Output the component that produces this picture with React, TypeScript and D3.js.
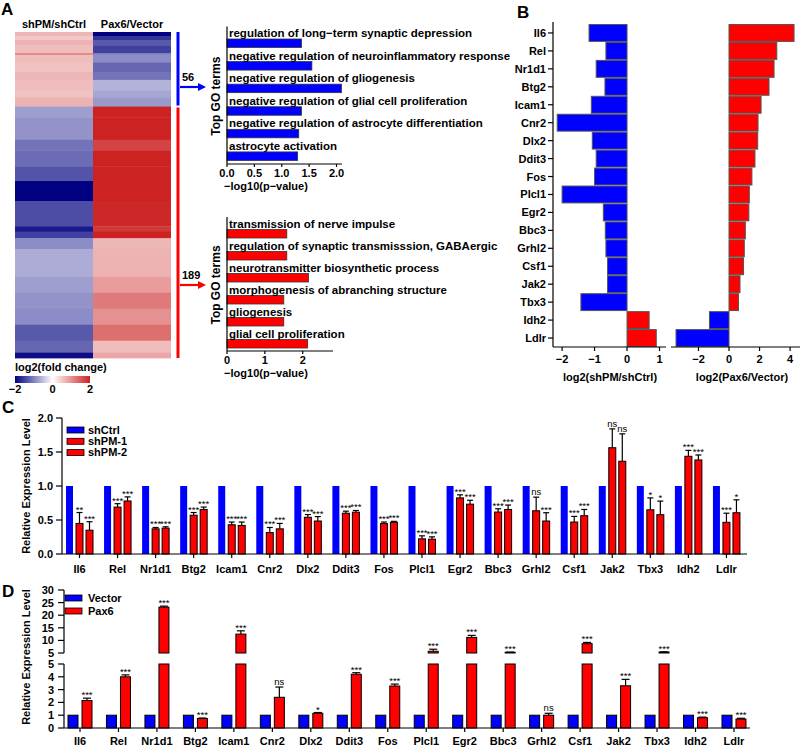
import React, { useEffect, useRef } from 'react';
import * as d3 from 'd3';

const FONT = '"Liberation Sans", Arial, Helvetica, sans-serif';
const BLUE = '#0000ff';
const RED = '#ff0000';
const MINUS = '\u2212';

// A: heatmap bands (genes per band, log2 fold change of each column)
const hmCounts = [3, 3, 4, 6, 1, 6, 7, 6, 8, 5, 7, 8, 17, 8, 12, 11, 15, 19, 4, 5, 8, 21, 12, 12, 12, 12, 9, 4];
const hmShPM = [0.65, 0.5, 0.7, 0.6, 1.3, 0.6, 0.55, 0.65, 0.6, 0.55, 0.7, -0.75, -0.85, -1.1, -1.15, -1.35, -2.0, -1.4, -1.8, -1.5, -0.9, -0.65, -0.75, -0.85, -0.9, -1.3, -1.2, -1.9];
const hmPax6 = [-2.0, -1.6, -1.3, -1.5, -1.0, -0.9, -1.2, -1.1, -0.6, -0.7, -0.8, 2.0, 2.0, 1.7, 2.0, 2.0, 2.0, 1.95, 1.8, 2.0, 0.65, 0.7, 0.9, 1.2, 1.0, 1.3, 0.6, 0.8];
const hmColumns = ['shPM/shCtrl', 'Pax6/Vector'];
const hmGroups = [56, 189];

// A: GO terms
const goTopTerms = [
  'regulation of long\u2212term synaptic depression',
  'negative regulation of neuroinflammatory response',
  'negative regulation of gliogenesis',
  'negative regulation of glial cell proliferation',
  'negative regulation of astrocyte differentiation',
  'astrocyte activation',
];
const goTopValues = [1.36, 1.55, 2.09, 1.36, 1.31, 1.29];
const goBottomTerms = [
  'transmission of nerve impulse',
  'regulation of synaptic transmisssion, GABAergic',
  'neurotransmitter biosynthetic process',
  'morphogenesis of abranching structure',
  'gliogenesis',
  'glial cell proliferation',
];
const goBottomValues = [1.58, 1.58, 2.15, 1.5, 1.5, 2.13];

// genes used in B, C, D
const genes = ['Il6', 'Rel', 'Nr1d1', 'Btg2', 'Icam1', 'Cnr2', 'Dlx2', 'Ddit3', 'Fos', 'Plcl1', 'Egr2', 'Bbc3', 'Grhl2', 'Csf1', 'Jak2', 'Tbx3', 'Idh2', 'Ldlr'];

// B
const bShPM = [-1.17, -0.65, -0.95, -0.68, -1.1, -2.15, -1.07, -0.95, -1.0, -2.0, -0.73, -0.67, -0.65, -0.6, -0.6, -1.42, 0.68, 0.9];
const bPax6 = [4.26, 3.13, 2.95, 2.62, 2.1, 1.9, 1.88, 1.7, 1.5, 1.33, 1.3, 1.07, 1.0, 0.95, 0.72, 0.62, -1.28, -3.47];

// C
const cSeries = ['shCtrl', 'shPM-1', 'shPM-2'];
const cShCtrl = [1, 1, 1, 1, 1, 1, 1, 1, 1, 1, 1, 1, 1, 1, 1, 1, 1, 1];
const cShPM1 = [0.45, 0.69, 0.37, 0.57, 0.43, 0.315, 0.54, 0.6, 0.447, 0.223, 0.825, 0.617, 0.636, 0.47, 1.563, 0.65, 1.437, 0.466];
const cShPM1Err = [0.16, 0.05, 0.02, 0.04, 0.04, 0.075, 0.04, 0.03, 0.023, 0.044, 0.045, 0.048, 0.2, 0.083, 0.277, 0.175, 0.087, 0.134];
const cShPM2 = [0.35, 0.78, 0.38, 0.655, 0.42, 0.37, 0.485, 0.615, 0.466, 0.218, 0.733, 0.655, 0.485, 0.563, 1.364, 0.578, 1.383, 0.607];
const cShPM2Err = [0.125, 0.06, 0.02, 0.035, 0.05, 0.08, 0.065, 0.025, 0.014, 0.034, 0.057, 0.065, 0.122, 0.092, 0.403, 0.2, 0.073, 0.19];
const cSig1 = ['**', '***', '***', '***', '***', '***', '***', '***', '***', '***', '***', '***', 'ns', '***', 'ns', '*', '***', '***'];
const cSig2 = ['***', '***', '***', '***', '***', '***', '***', '***', '***', '***', '***', '***', '***', '***', 'ns', '*', '***', '*'];
const cTicks = [0, 0.5, 1.0, 1.5, 2.0];

// D
const dSeries = ['Vector', 'Pax6'];
const dVector = [1, 1, 1, 1, 1, 1, 1, 1, 1, 1, 1, 1, 1, 1, 1, 1, 1, 1];
const dPax6 = [2.15, 4.0, 23.2, 0.74, 12.5, 2.4, 1.15, 4.2, 3.28, 5.7, 11.2, 5.3, 1.0, 8.7, 3.3, 5.4, 0.8, 0.7];
const dPax6Err = [0.18, 0.15, 0.4, 0.04, 1.3, 0.8, 0.06, 0.12, 0.15, 0.8, 0.8, 0.05, 0.15, 0.5, 0.5, 0.05, 0.05, 0.06];
const dSig = ['***', '***', '***', '***', '***', 'ns', '*', '***', '***', '***', '***', '***', 'ns', '***', '***', '***', '***', '***'];
const dLowTicks = [0, 1, 2, 3, 4, 5];
const dHighTicks = [5, 10, 15, 20, 25, 30];

const fmtNum = (d: number) => (d < 0 ? MINUS + Math.abs(d) : String(d));

const App: React.FC = () => {
  const svgRef = useRef<SVGSVGElement>(null);

  useEffect(() => {
    const svg = d3.select(svgRef.current);
    svg.selectAll('*').remove();

    const txt = (x: number, y: number, s: string, size = 11, anchor = 'start') =>
      svg.append('text').attr('x', x).attr('y', y).attr('font-size', size).attr('text-anchor', anchor).attr('fill', '#000').text(s);
    const ln = (x1: number, y1: number, x2: number, y2: number, color = '#000', w = 1.2) =>
      svg.append('line').attr('x1', x1).attr('y1', y1).attr('x2', x2).attr('y2', y2).attr('stroke', color).attr('stroke-width', w);
    const vtxt = (x: number, y: number, s: string, size = 11) =>
      txt(x, y, s, size, 'middle').attr('transform', `rotate(-90,${x},${y})`);

    // panel letters
    txt(1, 15, 'A', 17);
    txt(517, 18, 'B', 17);
    txt(2, 413, 'C', 17);
    txt(2, 597, 'D', 17);

    // ---------- A: heatmap
    const total = d3.sum(hmCounts);
    const yHm = d3.scaleLinear().domain([0, total]).range([32, 358]);
    const xHm = d3.scaleBand().domain(hmColumns).range([15, 171]);
    const colHm = d3.scaleLinear<string>().domain([-2, 0, 2]).range(['#000080', '#ffffff', '#cc2222']).clamp(true);
    const starts = d3.cumsum([0, ...hmCounts]);
    hmCounts.forEach((n, i) => {
      [hmShPM[i], hmPax6[i]].forEach((v, j) => {
        svg.append('rect')
          .attr('x', xHm(hmColumns[j])!)
          .attr('width', xHm.bandwidth())
          .attr('y', yHm(starts[i]))
          .attr('height', yHm(starts[i] + n) - yHm(starts[i]) + 0.4)
          .attr('fill', colHm(v));
      });
    });
    hmColumns.forEach(c => txt(xHm(c)! + xHm.bandwidth() / 2, 28, c, 11, 'middle'));

    // group bars and arrows
    const g1 = yHm(hmGroups[0]);
    ln(178, yHm(0), 178, g1 - 1, BLUE, 3);
    ln(178, g1 + 1, 178, yHm(total), RED, 3);
    const arrow = (y: number, color: string, label: string) => {
      ln(180, y, 199, y, color, 2.2);
      svg.append('path').attr('d', `M206,${y} L198,${y - 4} L198,${y + 4} Z`).attr('fill', color);
      txt(182, y - 6, label, 11);
    };
    arrow(87, BLUE, String(hmGroups[0]));
    arrow(285, RED, String(hmGroups[1]));

    // colour bar
    const grad = svg.append('defs').append('linearGradient').attr('id', 'hmgrad');
    [-2, -1, 0, 1, 2].forEach(v => grad.append('stop').attr('offset', `${((v + 2) / 4) * 100}%`).attr('stop-color', colHm(v)));
    const xCb = d3.scaleLinear().domain([-2, 2]).range([15, 90]);
    txt(15, 371, 'log2(fold change)', 11);
    svg.append('rect').attr('x', xCb(-2)).attr('y', 376).attr('width', xCb(2) - xCb(-2)).attr('height', 7).attr('fill', 'url(#hmgrad)');
    [-2, 0, 2].forEach(v => txt(xCb(v), 393, fmtNum(v), 11, 'middle'));

    // GO bar charts
    const drawGO = (terms: string[], values: number[], color: string, top: number, bottom: number,
      xMax: number, xEnd: number, ticks: number[], fmt: (d: number) => string) => {
      const x = d3.scaleLinear().domain([0, xMax]).range([227, xEnd]);
      const y = d3.scaleBand().domain(terms).range([top, bottom]);
      terms.forEach((t, i) => {
        svg.append('rect').attr('x', x(0)).attr('y', y(t)! + 10.5).attr('width', x(values[i]) - x(0)).attr('height', 8.5)
          .attr('fill', color).attr('stroke', '#333').attr('stroke-width', 0.8);
        txt(x(0) + 2, y(t)! + 8.5, t, 11.5);
      });
      ln(x(0), top - 2, x(0), bottom, '#000', 1.2);
      ln(x(0), bottom, xEnd, bottom, '#000', 1.2);
      ticks.forEach(v => {
        ln(x(v), bottom, x(v), bottom + 3);
        txt(x(v), bottom + 13, fmt(v), 11, 'middle');
      });
      txt(266, bottom + 26, `${MINUS}log10(p${MINUS}value)`, 11, 'middle');
      vtxt(220, (top + bottom) / 2, 'Top GO terms', 12);
    };
    drawGO(goTopTerms, goTopValues, BLUE, 28.5, 164, 2.1, 342, [0, 0.5, 1, 1.5, 2], d3.format('.1f'));
    drawGO(goBottomTerms, goBottomValues, RED, 219, 351, 2.8, 333, [0, 1, 2], d3.format('d'));

    // ---------- B
    const yB = d3.scaleBand().domain(genes).range([24, 347]).paddingInner(0.06).paddingOuter(0.03);
    const xBL = d3.scaleLinear().domain([-2.28, 1.2]).range([553, 666]);
    const xBR = d3.scaleLinear().domain([-3.8, 4.65]).range([671, 800]);
    const bBars = (x: d3.ScaleLinear<number, number>, vals: number[]) => {
      genes.forEach((g, i) => {
        const v = vals[i];
        svg.append('rect')
          .attr('x', Math.min(x(0), x(v)))
          .attr('width', Math.abs(x(v) - x(0)))
          .attr('y', yB(g)!)
          .attr('height', yB.bandwidth())
          .attr('fill', v < 0 ? BLUE : RED)
          .attr('stroke', '#555')
          .attr('stroke-width', 1);
      });
    };
    bBars(xBL, bShPM);
    bBars(xBR, bPax6);
    ln(553, 22, 553, 347);
    genes.forEach(g => {
      const cy = yB(g)! + yB.bandwidth() / 2;
      ln(548, cy, 553, cy);
      txt(546, cy + 4, g, 11, 'end');
    });
    ln(553, 347, 666, 347);
    [-2, -1, 0, 1].forEach(v => { ln(xBL(v), 347, xBL(v), 351); txt(xBL(v), 363, fmtNum(v), 11, 'middle'); });
    ln(671, 347, 800, 347);
    [-2, 0, 2, 4].forEach(v => { ln(xBR(v), 347, xBR(v), 351); txt(xBR(v), 363, fmtNum(v), 11, 'middle'); });
    txt(610, 381, 'log2(shPM/shCtrl)', 11, 'middle');
    txt(742, 381, 'log2(Pax6/Vector)', 11, 'middle');

    // error bar + significance helper
    const errBar = (cx: number, yTop: number, yErr: number, cap: number, sig: string) => {
      ln(cx, yTop, cx, yErr, '#000', 1.2);
      ln(cx - cap / 2, yErr, cx + cap / 2, yErr, '#000', 1.2);
      txt(cx, yErr - (sig === 'ns' ? 2 : 0), sig, 9.5, 'middle').attr('font-weight', 'normal');
    };

    // ---------- C
    const xC = d3.scaleBand().domain(genes).range([62, 747]);
    const yC = d3.scaleLinear().domain([0, 2]).range([554, 418]);
    const cColors = [BLUE, RED, RED];
    const cVals = [cShCtrl, cShPM1, cShPM2];
    const cErrs = [null, cShPM1Err, cShPM2Err];
    const cSigs = [null, cSig1, cSig2];
    genes.forEach((g, i) => {
      cVals.forEach((vals, s) => {
        const bx = xC(g)! + 4 + s * 10;
        svg.append('rect').attr('x', bx).attr('y', yC(vals[i])).attr('width', 7).attr('height', yC(0) - yC(vals[i]))
          .attr('fill', cColors[s]).attr('stroke', s === 0 ? 'none' : '#000').attr('stroke-width', 1);
        const errs = cErrs[s];
        if (errs) errBar(bx + 3.5, yC(vals[i]), yC(vals[i] + errs[i]), 6, cSigs[s]![i]);
      });
      const cx = xC(g)! + 17.5;
      ln(cx, 554, cx, 558);
      txt(cx, 573, g, 11, 'middle');
    });
    ln(62, 418, 62, 554);
    ln(62, 554, 747, 554);
    cTicks.forEach(v => { ln(56, yC(v), 62, yC(v)); txt(53, yC(v) + 4, d3.format('.1f')(v), 11, 'end'); });
    vtxt(30, 486, 'Relative Expression Level', 11);
    cSeries.forEach((s, k) => {
      const ly = 427 + k * 11.3;
      svg.append('rect').attr('x', 67).attr('y', ly).attr('width', 17).attr('height', 6).attr('fill', cColors[k])
        .attr('stroke', '#000').attr('stroke-width', 0.8);
      txt(88, ly + 6.5, s, 11);
    });

    // ---------- D (broken axis)
    const xD = d3.scaleBand().domain(genes).range([64, 64 + 18 * 38.47]);
    const yLow = d3.scaleLinear().domain([0, 5]).range([728, 664]);
    const yHigh = d3.scaleLinear().domain([5, 30]).range([653, 590]);
    const dBar = (bx: number, v: number, color: string) => {
      svg.append('rect').attr('x', bx).attr('y', yLow(Math.min(v, 5))).attr('width', 10)
        .attr('height', yLow(0) - yLow(Math.min(v, 5))).attr('fill', color).attr('stroke', '#000').attr('stroke-width', 1);
      if (v > 5) {
        svg.append('rect').attr('x', bx).attr('y', yHigh(v)).attr('width', 10)
          .attr('height', yHigh(5) - yHigh(v)).attr('fill', color).attr('stroke', '#000').attr('stroke-width', 1);
      }
    };
    genes.forEach((g, i) => {
      const b0 = xD(g)! + 4;
      dBar(b0, dVector[i], BLUE);
      const b1 = xD(g)! + 18;
      dBar(b1, dPax6[i], RED);
      const top = dPax6[i];
      const yv = top > 5 ? yHigh(top) : yLow(top);
      const ye = top > 5 ? yHigh(top + dPax6Err[i]) : yLow(top + dPax6Err[i]);
      errBar(b1 + 5, yv, ye, 8, dSig[i]);
      const cx = xD(g)! + 16;
      ln(cx, 728, cx, 732);
      txt(cx, 745, g, 11, 'middle');
    });
    ln(64, 590, 64, 653);
    ln(64, 664, 64, 728);
    ln(64, 728, 750, 728);
    dHighTicks.forEach(v => { ln(58, yHigh(v), 64, yHigh(v)); txt(54, yHigh(v) + 4, String(v), 11, 'end'); });
    dLowTicks.forEach(v => { ln(58, yLow(v), 64, yLow(v)); txt(54, yLow(v) + 4, String(v), 11, 'end'); });
    vtxt(30, 657, 'Relative Expression Level', 11);
    dSeries.forEach((s, k) => {
      const ly = 595 + k * 13;
      svg.append('rect').attr('x', 65).attr('y', ly).attr('width', 17).attr('height', 6).attr('fill', k === 0 ? BLUE : RED)
        .attr('stroke', '#000').attr('stroke-width', 0.8);
      txt(88, ly + 6.5, s, 11);
    });
  }, []);

  return (
    <svg
      ref={svgRef}
      width={800}
      height={748}
      style={{ position: 'absolute', left: 0, top: 0, background: '#fff', fontFamily: FONT, fontWeight: 'bold' }}
    />
  );
};

export default App;
